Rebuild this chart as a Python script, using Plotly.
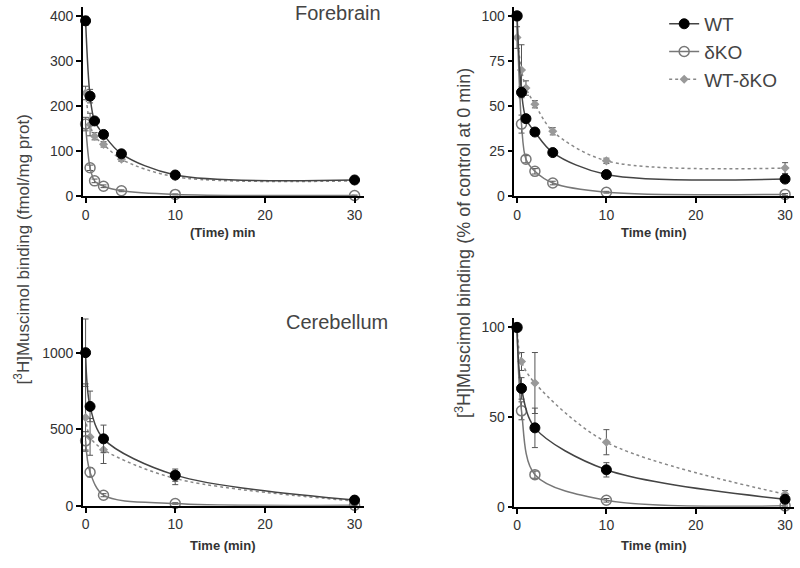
import plotly.graph_objects as go

# ---------------- data ----------------
fb_time = [0, 0.5, 1, 2, 4, 10, 30]
fb_wt = [389, 222, 167, 137, 94, 47, 36]
fb_wt_err = [10, 15, 6, 5, 5, 4, 3]
fb_ko = [160, 63, 34, 22, 12, 4, 1.5]
fb_ko_err = [15, 6, 4, 3, 2, 1, 1]
fb_diff = [229, 159, 133, 115, 82, 43, 34]
fb_diff_err = [15, 25, 8, 6, 5, 4, 3]

fbp_wt = [100, 57.6, 43, 35.6, 24.2, 12, 9.5]
fbp_wt_err = [0, 3, 2, 1.5, 1.5, 1, 1]
fbp_ko = [100, 40, 20.5, 13.8, 7.3, 2.2, 1]
fbp_ko_err = [0, 5, 2, 1.5, 1, 0.5, 0.5]
fbp_diff = [88, 70, 60, 51, 36, 19.6, 15.6]
fbp_diff_err = [6, 14, 4, 2, 2, 1.5, 3]

cb_time = [0, 0.5, 2, 10, 30]
cb_wt = [1000, 649, 437, 200, 37]
cb_wt_err = [220, 100, 90, 40, 10]
cb_ko = [424, 219, 69, 15, 4]
cb_ko_err = [60, 30, 10, 5, 2]
cb_diff = [576, 450, 366, 178, 31]
cb_diff_err = [220, 120, 90, 40, 10]

cbp_wt = [100, 66, 44, 20.6, 4.2]
cbp_wt_err = [0, 6, 11, 4, 1]
cbp_ko = [100, 53.5, 17.9, 3.6, 0.5]
cbp_ko_err = [0, 5, 2, 1, 0.5]
cbp_diff = [100, 81, 69, 36, 7]
cbp_diff_err = [0, 5, 17, 7, 2]

series_names = ["WT", "δKO", "WT-δKO"]

# ---------------- styles ----------------
FONT = "Liberation Sans, Arial, sans-serif"
W, H = 800, 568

def px_x(a, b):
    return [a / W, b / W]

def px_y(top, bottom):
    return [(H - bottom) / H, (H - top) / H]

styles = [
    dict(mode="lines+markers", line=dict(color="#444444", width=1.5, shape="spline", smoothing=0.9),
         marker=dict(symbol="circle", size=10, color="black", line=dict(color="black", width=1))),
    dict(mode="lines+markers", line=dict(color="#777777", width=1.5, shape="spline", smoothing=0.9),
         marker=dict(symbol="circle-open", size=10, color="#777777", line=dict(width=1.5))),
    dict(mode="lines+markers", line=dict(color="#888888", width=1.5, dash="dot", shape="spline", smoothing=0.9),
         marker=dict(symbol="diamond", size=7, color="#999999")),
]

fig = go.Figure()

panels = [
    ("x", "y", fb_time, [(fb_wt, fb_wt_err), (fb_ko, fb_ko_err), (fb_diff, fb_diff_err)], True),
    ("x2", "y2", fb_time, [(fbp_wt, fbp_wt_err), (fbp_ko, fbp_ko_err), (fbp_diff, fbp_diff_err)], False),
    ("x3", "y3", cb_time, [(cb_wt, cb_wt_err), (cb_ko, cb_ko_err), (cb_diff, cb_diff_err)], False),
    ("x4", "y4", cb_time, [(cbp_wt, cbp_wt_err), (cbp_ko, cbp_ko_err), (cbp_diff, cbp_diff_err)], False),
]

for xa, ya, t, ser, show in panels:
    for idx in [2, 1, 0]:
        vals, err = ser[idx]
        st = styles[idx]
        fig.add_trace(go.Scatter(
            x=t, y=vals, xaxis=xa, yaxis=ya, name=series_names[idx],
            legendgroup=series_names[idx], legendrank=idx + 1,
            showlegend=show, cliponaxis=False,
            error_y=dict(type="data", array=err, visible=True, color="#555555", thickness=1, width=3),
            **st))

axis_common = dict(showline=True, linecolor="black", linewidth=1.5, ticks="outside", ticklen=5,
                   tickwidth=1.5, tickcolor="black", showgrid=False, zeroline=False,
                   tickfont=dict(family=FONT, size=14, color="#333333"))

xdom_l = px_x(82, 363)
xdom_r = px_x(514, 794)

fig.update_layout(
    width=W, height=H, margin=dict(l=0, r=0, t=0, b=0),
    paper_bgcolor="white", plot_bgcolor="white",
    font=dict(family=FONT, color="#333333"),
    xaxis=dict(domain=xdom_l, anchor="y", range=[-0.3, 31], tickvals=[0, 10, 20, 30], **axis_common),
    yaxis=dict(domain=px_y(7, 199), anchor="x", range=[0, 420], tickvals=[0, 100, 200, 300, 400], **axis_common),
    xaxis2=dict(domain=xdom_r, anchor="y2", range=[-0.3, 31], tickvals=[0, 10, 20, 30], **axis_common),
    yaxis2=dict(domain=px_y(7, 199), anchor="x2", range=[0, 105], tickvals=[0, 25, 50, 75, 100], **axis_common),
    xaxis3=dict(domain=xdom_l, anchor="y3", range=[-0.3, 31], tickvals=[0, 10, 20, 30], **axis_common),
    yaxis3=dict(domain=px_y(322, 513), anchor="x3", range=[0, 1230], tickvals=[0, 500, 1000], **axis_common),
    xaxis4=dict(domain=xdom_r, anchor="y4", range=[-0.3, 31], tickvals=[0, 10, 20, 30], **axis_common),
    yaxis4=dict(domain=px_y(323, 514), anchor="x4", range=[0, 105], tickvals=[0, 50, 100], **axis_common),
    legend=dict(x=664 / W, y=1 - 5 / H, xanchor="left", yanchor="top",
                font=dict(family=FONT, size=19, color="#444444"),
                bgcolor="rgba(0,0,0,0)", tracegroupgap=0, itemwidth=30),
    showlegend=True,
)

def ann(text, x, y, size, bold=False, angle=0, color="#444444"):
    fig.add_annotation(text=("<b>%s</b>" % text) if bold else text,
                       x=x / W, y=1 - y / H, xref="paper", yref="paper",
                       xanchor="center", yanchor="middle", showarrow=False, textangle=angle,
                       font=dict(family=FONT, size=size, color=color))

ann("Forebrain", 337, 13, 20)
ann("Cerebellum", 336, 327, 20)
ann("(Time) min", 222, 236, 13, bold=True, color="#333333")
ann("Time (min)", 654, 236, 13, bold=True, color="#333333")
ann("Time (min)", 222, 553, 13, bold=True, color="#333333")
ann("Time (min)", 654, 553, 13, bold=True, color="#333333")
ann("[<sup>3</sup>H]Muscimol binding (fmol/mg prot)", 21, 253, 17, angle=-90)
ann("[<sup>3</sup>H]Muscimol binding (% of control at 0 min)", 463, 246, 18, angle=-90)

fig.write_html("out.html", config={"displayModeBar": False},
               post_script="document.body.style.margin='0px';")
